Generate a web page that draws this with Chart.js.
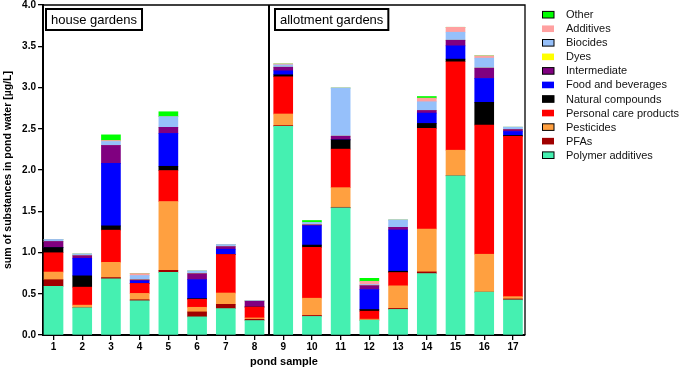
<!DOCTYPE html>
<html>
<head>
<meta charset="utf-8">
<script src="https://cdn.jsdelivr.net/npm/chart.js@4"></script>
<style>
  html, body { margin: 0; padding: 0; background: #fff; }
  #wrap { width: 685px; height: 369px; position: relative; }
</style>
</head>
<body>
<div id="wrap"><canvas id="chart"></canvas></div>
<script>
// pond samples 1-8 are house gardens, 9-17 allotment gardens
const ponds = [1, 2, 3, 4, 5, 6, 7, 8, 9, 10, 11, 12, 13, 14, 15, 16, 17];
const yTicks = [0, 0.5, 1, 1.5, 2, 2.5, 3, 3.5, 4];

// values in µg/L, stacked bottom -> top
const polymerAdditives = [0.59, 0.33, 0.68, 0.415, 0.76, 0.22, 0.32, 0.175, 2.53, 0.225, 1.54, 0.18, 0.31, 0.745, 1.93, 0.52, 0.425];
const pfas             = [0.08, 0, 0.016, 0.012, 0.024, 0.06, 0.052, 0.016, 0.008, 0.012, 0.008, 0, 0.012, 0.02, 0, 0, 0.012];
const pesticides       = [0.093, 0.032, 0.185, 0.077, 0.834, 0.056, 0.137, 0.016, 0.141, 0.209, 0.238, 0.012, 0.274, 0.52, 0.31, 0.459, 0.028];
const personalCare     = [0.234, 0.218, 0.39, 0.121, 0.375, 0.097, 0.467, 0.133, 0.451, 0.616, 0.467, 0.097, 0.161, 1.22, 1.072, 1.567, 1.942];
const naturalCompounds = [0.064, 0.137, 0.052, 0, 0.052, 0.008, 0, 0, 0.024, 0.028, 0.113, 0.02, 0.016, 0.06, 0.032, 0.274, 0.012];
const foodBeverages    = [0, 0.213, 0.757, 0.032, 0.399, 0.23, 0.064, 0, 0.048, 0.234, 0, 0.242, 0.5, 0.125, 0.161, 0.29, 0.048];
const intermediate     = [0.073, 0.032, 0.218, 0.012, 0.073, 0.073, 0.032, 0.068, 0.044, 0.012, 0.044, 0.048, 0.032, 0.032, 0.068, 0.125, 0.024];
const dyes             = [0, 0, 0, 0, 0, 0, 0, 0, 0, 0, 0, 0, 0, 0, 0, 0, 0];
const biocides         = [0.024, 0.02, 0.048, 0.052, 0.129, 0.032, 0.024, 0.008, 0.028, 0.028, 0.584, 0.012, 0.089, 0.105, 0.097, 0.121, 0.028];
const additives        = [0, 0, 0.012, 0.024, 0, 0, 0, 0, 0.012, 0, 0, 0.04, 0, 0.044, 0.06, 0.028, 0];
const other            = [0, 0, 0.068, 0, 0.06, 0, 0, 0, 0, 0.024, 0, 0.036, 0, 0.02, 0, 0, 0];

const seriesNames = ['Polymer additives', 'PFAs', 'Pesticides', 'Personal care products', 'Natural compounds',
  'Food and beverages', 'Intermediate', 'Dyes', 'Biocides', 'Additives', 'Other'];
const seriesValues = [polymerAdditives, pfas, pesticides, personalCare, naturalCompounds,
  foodBeverages, intermediate, dyes, biocides, additives, other];
const seriesColors = ['#45f0b1', '#a00000', '#ffa040', '#ff0000', '#000000',
  '#0000ff', '#800080', '#ffff00', '#96c0fa', '#ffa0a0', '#00ff00'];

const panelLabels = ['house gardens', 'allotment gardens'];

const FONT = '"Liberation Sans", Arial, Helvetica, sans-serif';

// frame, group separator and the two boxed labels
const framePlugin = {
    id: 'frame',
    afterDraw(chart) {
        const ctx = chart.ctx;
        const area = chart.chartArea;
        const xs = chart.scales.x;
        ctx.save();
        ctx.strokeStyle = '#000';
        ctx.lineWidth = 1.3;
        ctx.beginPath();
        ctx.moveTo(area.left, area.top);
        ctx.lineTo(area.right, area.top);
        ctx.lineTo(area.right, area.bottom);
        ctx.stroke();

        const sep = Math.round(xs.getPixelForValue(8.5));
        ctx.lineWidth = 2;
        ctx.beginPath();
        ctx.moveTo(sep, area.top);
        ctx.lineTo(sep, area.bottom);
        ctx.stroke();

        ctx.font = '13px ' + FONT;
        ctx.textBaseline = 'middle';
        ctx.fillStyle = '#000';
        const starts = [area.left + 3, sep + 6];
        panelLabels.forEach((txt, i) => {
            const w = ctx.measureText(txt).width;
            const x = starts[i];
            const y = area.top + 4;
            ctx.lineWidth = 2;
            ctx.strokeRect(x, y, w + 10, 21);
            ctx.fillText(txt, x + 5, y + 11);
        });
        ctx.restore();
    }
};

// legend on the right, top entry = top of the stack
const legendPlugin = {
    id: 'sideLegend',
    afterDraw(chart) {
        const ctx = chart.ctx;
        ctx.save();
        ctx.font = '11px ' + FONT;
        ctx.textBaseline = 'middle';
        const n = seriesNames.length;
        for (let k = 0; k < n; k++) {
            const idx = n - 1 - k;
            const yc = 14.7 + k * 14.05;
            ctx.fillStyle = seriesColors[idx];
            ctx.fillRect(542, yc - 3.3, 12, 6.6);
            if (k % 2 === 0) {
                ctx.strokeStyle = '#000';
                ctx.lineWidth = 1;
                ctx.strokeRect(542.5, yc - 3.3, 11.5, 6.6);
            }
            ctx.fillStyle = '#111';
            ctx.fillText(seriesNames[idx], 566, yc + 0.5);
        }
        ctx.restore();
    }
};

const datasets = seriesNames.map((name, s) => ({
    label: name,
    data: seriesValues[s].map((v, i) => ({ x: ponds[i], y: v })),
    backgroundColor: seriesColors[s],
    borderWidth: 0,
    barThickness: 19
}));

new Chart(document.getElementById('chart'), {
    type: 'bar',
    data: { datasets: datasets },
    options: {
        responsive: true,
        maintainAspectRatio: false,
        animation: false,
        layout: { padding: { top: 4, right: 160, left: 0, bottom: 0 } },
        plugins: {
            legend: { display: false },
            tooltip: { enabled: false }
        },
        scales: {
            x: {
                type: 'linear',
                stacked: true,
                offset: false,
                min: 0.634,
                max: 17.42,
                afterBuildTicks: (scale) => { scale.ticks = ponds.map(v => ({ value: v })); },
                afterFit: (scale) => { scale.height = 34; },
                ticks: {
                    color: '#000',
                    padding: 1,
                    font: { family: FONT, size: 10, weight: 'bold' },
                    callback: (v) => String(v)
                },
                grid: { offset: false, drawOnChartArea: false, drawTicks: true, tickLength: 5, color: '#000', lineWidth: 1.3 },
                border: { display: true, color: '#000', width: 2 },
                title: {
                    display: true,
                    text: 'pond sample',
                    color: '#000',
                    padding: { top: 3, bottom: 0 },
                    font: { family: FONT, size: 11, weight: 'bold' }
                }
            },
            y: {
                stacked: true,
                min: 0,
                max: 4,
                afterBuildTicks: (scale) => { scale.ticks = yTicks.map(v => ({ value: v })); },
                afterFit: (scale) => { scale.width = 43; },
                ticks: {
                    color: '#000',
                    padding: 2,
                    font: { family: FONT, size: 10, weight: 'bold', lineHeight: 0.6 },
                    callback: (v) => Number(v).toFixed(1)
                },
                grid: { drawOnChartArea: false, drawTicks: true, tickLength: 5, color: '#000', lineWidth: 1.3 },
                border: { display: true, color: '#000', width: 2 },
                title: {
                    display: true,
                    text: 'sum of substances in pond water [µg/L]',
                    color: '#000',
                    padding: { top: 2, bottom: 0 },
                    font: { family: FONT, size: 10.5, weight: 'bold' }
                }
            }
        }
    },
    plugins: [framePlugin, legendPlugin]
});
</script>
</body>
</html>
